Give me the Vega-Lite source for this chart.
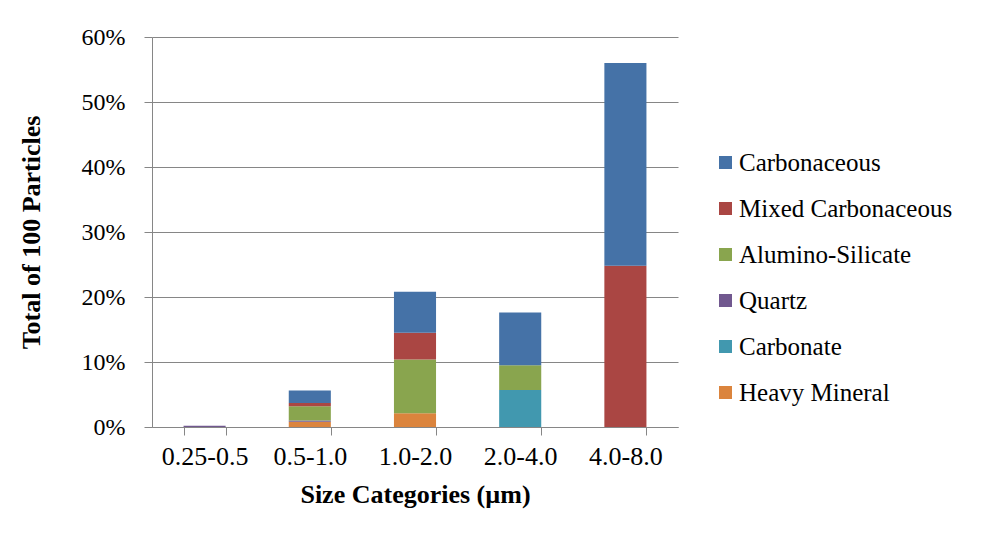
{
  "$schema": "https://vega.github.io/schema/vega-lite/v6.json",
  "width": 526,
  "height": 390,
  "autosize": {"type": "none"},
  "padding": {"left": 152, "top": 37, "right": 306, "bottom": 112},
  "background": "white",
  "config": {
    "view": {"stroke": null},
    "font": "Liberation Serif"
  },
  "data": {
    "values": [
      {"size": "0.25-0.5", "type": "Quartz", "k": 3, "value": 0.002},
      {"size": "0.5-1.0", "type": "Heavy Mineral", "k": 1, "value": 0.008},
      {"size": "0.5-1.0", "type": "Quartz", "k": 3, "value": 0.002},
      {"size": "0.5-1.0", "type": "Alumino-Silicate", "k": 4, "value": 0.022},
      {"size": "0.5-1.0", "type": "Mixed Carbonaceous", "k": 5, "value": 0.005},
      {"size": "0.5-1.0", "type": "Carbonaceous", "k": 6, "value": 0.019},
      {"size": "1.0-2.0", "type": "Heavy Mineral", "k": 1, "value": 0.021},
      {"size": "1.0-2.0", "type": "Alumino-Silicate", "k": 4, "value": 0.083},
      {"size": "1.0-2.0", "type": "Mixed Carbonaceous", "k": 5, "value": 0.041},
      {"size": "1.0-2.0", "type": "Carbonaceous", "k": 6, "value": 0.063},
      {"size": "2.0-4.0", "type": "Carbonate", "k": 2, "value": 0.057},
      {"size": "2.0-4.0", "type": "Alumino-Silicate", "k": 4, "value": 0.038},
      {"size": "2.0-4.0", "type": "Carbonaceous", "k": 6, "value": 0.081},
      {"size": "4.0-8.0", "type": "Mixed Carbonaceous", "k": 5, "value": 0.248},
      {"size": "4.0-8.0", "type": "Carbonaceous", "k": 6, "value": 0.312}
    ]
  },
  "mark": {"type": "bar"},
  "encoding": {
    "x": {
      "field": "size",
      "type": "nominal",
      "sort": ["0.25-0.5", "0.5-1.0", "1.0-2.0", "2.0-4.0", "4.0-8.0"],
      "scale": {"paddingInner": 0.6, "paddingOuter": 0.3},
      "axis": {
        "title": "Size Categories (µm)",
        "titleFont": "Liberation Serif",
        "titleFontSize": 26,
        "titleFontWeight": "bold",
        "titleColor": "black",
        "titlePadding": 12,
        "labelAngle": 0,
        "labelFont": "Liberation Serif",
        "labelFontSize": 26,
        "labelColor": "black",
        "labelPadding": 8,
        "tickBand": "extent",
        "tickSize": 8,
        "tickColor": "#868686",
        "domainColor": "#868686",
        "grid": false
      }
    },
    "y": {
      "field": "value",
      "type": "quantitative",
      "stack": "zero",
      "scale": {"domain": [0, 0.6], "nice": false},
      "axis": {
        "title": "Total of 100 Particles",
        "titleFont": "Liberation Serif",
        "titleFontSize": 26,
        "titleFontWeight": "bold",
        "titleColor": "black",
        "titlePadding": 37,
        "values": [0, 0.1, 0.2, 0.3, 0.4, 0.5, 0.6],
        "format": ".0%",
        "labelFont": "Liberation Serif",
        "labelFontSize": 24,
        "labelColor": "black",
        "labelPadding": 19,
        "tickSize": 8,
        "tickColor": "#868686",
        "domainColor": "#868686",
        "grid": true,
        "gridColor": "#868686",
        "gridWidth": 1.2
      }
    },
    "color": {
      "field": "type",
      "type": "nominal",
      "scale": {
        "domain": ["Carbonaceous", "Mixed Carbonaceous", "Alumino-Silicate", "Quartz", "Carbonate", "Heavy Mineral"],
        "range": ["#4572A7", "#AA4643", "#89A54E", "#71588F", "#4198AF", "#DB843D"]
      },
      "legend": {
        "title": null,
        "orient": "none",
        "legendX": 561,
        "legendY": 113,
        "symbolType": "square",
        "symbolSize": 169,
        "symbolStrokeWidth": 0,
        "labelFont": "Liberation Serif",
        "labelFontSize": 25,
        "labelColor": "black",
        "labelOffset": 1,
        "labelLimit": 0,
        "rowPadding": 20,
        "padding": 0
      }
    },
    "order": {"field": "k", "type": "quantitative", "sort": "ascending"}
  }
}
